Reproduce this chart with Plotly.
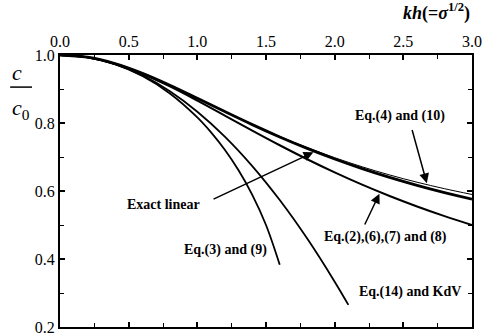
import plotly.graph_objects as go

# kh values and c/c0 curves
kh = [0.0, 0.2, 0.4, 0.6, 0.8, 1.0, 1.2, 1.4, 1.6, 1.8, 2.0, 2.2, 2.4, 2.6, 2.8, 3.0]
exact_linear = [1.0, 0.9934, 0.9746, 0.9461, 0.9111, 0.8727, 0.8335, 0.7952, 0.7590, 0.7253,
                0.6943, 0.6660, 0.6402, 0.6168, 0.5954, 0.5759]
eq4_10 = [1.0, 0.9934, 0.9746, 0.9461, 0.9111, 0.8729, 0.8339, 0.7961, 0.7605, 0.7278,
          0.6980, 0.6712, 0.6472, 0.6258, 0.6068, 0.5898]
eq2_6_7_8 = [1.0, 0.9934, 0.9744, 0.9449, 0.9078, 0.8660, 0.8220, 0.7777, 0.7346, 0.6934,
             0.6547, 0.6186, 0.5852, 0.5544, 0.5261, 0.5000]

kh_eq3 = [0.0, 0.2, 0.4, 0.6, 0.8, 1.0, 1.1, 1.2, 1.3, 1.4, 1.5, 1.6]
eq3_9 = [1.0, 0.9933, 0.9730, 0.9381, 0.8869, 0.8165, 0.7724, 0.7211, 0.6608, 0.5888, 0.5000, 0.3830]

kh_kdv = [0.0, 0.2, 0.4, 0.6, 0.8, 1.0, 1.2, 1.4, 1.6, 1.8, 2.0, 2.1]
eq14_kdv = [1.0, 0.9933, 0.9733, 0.9400, 0.8933, 0.8333, 0.7600, 0.6733, 0.5733, 0.4600, 0.3333, 0.2650]

x_ticks = [0.0, 0.5, 1.0, 1.5, 2.0, 2.5, 3.0]
y_ticks = [0.2, 0.4, 0.6, 0.8, 1.0]

FONT = "Liberation Serif, Times New Roman, serif"

fig = go.Figure()
def add(x, y, w):
    fig.add_trace(go.Scatter(x=x, y=y, mode="lines", line=dict(color="black", width=w, shape="spline"),
                             showlegend=False, hoverinfo="skip"))

add(kh, eq2_6_7_8, 2.0)
add(kh_eq3, eq3_9, 1.8)
add(kh_kdv, eq14_kdv, 1.8)
add(kh, eq4_10, 1.0)
add(kh, exact_linear, 2.8)

axis_common = dict(showline=True, linecolor="black", linewidth=2, mirror="ticks",
                   ticks="inside", ticklen=5, tickwidth=1.5, tickcolor="black",
                   showgrid=False, zeroline=False, automargin=False, ticklabeloverflow="allow",
                   tickfont=dict(family=FONT, size=16, color="black"))

fig.update_xaxes(range=[0, 3], side="top", tickvals=x_ticks, ticktext=[f"{v:.1f}" for v in x_ticks],
                 minor=dict(dtick=0.25, tick0=0, ticks="inside", ticklen=4, tickcolor="black", tickwidth=1.2),
                 **axis_common)
fig.update_yaxes(range=[0.2, 1.0], tickvals=y_ticks, ticktext=[f"{v:.1f}" for v in y_ticks],
                 minor=dict(dtick=0.1, tick0=0.2, ticks="inside", ticklen=4, tickcolor="black", tickwidth=1.2),
                 **axis_common)

afont = dict(family=FONT, size=14, color="black")
ann = []
def label(x, y, text):
    ann.append(dict(x=x, y=y, text="<b>" + text + "</b>", showarrow=False, font=afont, xref="x", yref="y"))

def arrow(tail, head):
    ann.append(dict(x=head[0], y=head[1], ax=tail[0], ay=tail[1], axref="x", ayref="y", xref="x", yref="y",
                    text="", showarrow=True, arrowhead=2, arrowsize=1.3, arrowwidth=1.5,
                    arrowcolor="black", standoff=0))

label(2.476, 0.822, "Eq.(4) and (10)")
arrow((2.561, 0.784), (2.671, 0.623))
label(0.754, 0.559, "Exact linear")
arrow((1.107, 0.574), (1.845, 0.714))
label(2.367, 0.466, "Eq.(2),(6),(7) and (8)")
arrow((2.214, 0.497), (2.326, 0.592))
label(1.202, 0.427, "Eq.(3) and (9)")
label(2.549, 0.304, "Eq.(14) and KdV")

# axis titles
ann.append(dict(x=1.0, y=1.0, xref="paper", yref="paper", xanchor="right", yanchor="bottom", yshift=29,
                text="<b><i>kh</i>(=<i>σ</i><sup>1/2</sup>)</b>", showarrow=False,
                font=dict(family=FONT, size=18, color="black")))
ann.append(dict(x=-0.104, y=0.934, xref="paper", yref="paper", xanchor="center", yanchor="middle",
                text="<i>c</i>", showarrow=False, font=dict(family=FONT, size=22, color="black")))
ann.append(dict(x=-0.095, y=0.80, xref="paper", yref="paper", xanchor="center", yanchor="middle",
                text="<i>c</i><sub>0</sub>", showarrow=False, font=dict(family=FONT, size=22, color="black")))
fig.add_shape(type="line", xref="paper", yref="paper", x0=-0.121, x1=-0.068, y0=0.882, y1=0.882,
              line=dict(color="black", width=1.5))

fig.update_layout(width=495, height=335, margin=dict(l=60, r=23, t=55, b=8),
                  plot_bgcolor="white", paper_bgcolor="white", annotations=ann,
                  font=dict(family=FONT, color="black"))

fig.write_html("out.html", config={"displayModeBar": False},
               post_script="document.body.style.margin='0';document.body.style.overflow='hidden';")
